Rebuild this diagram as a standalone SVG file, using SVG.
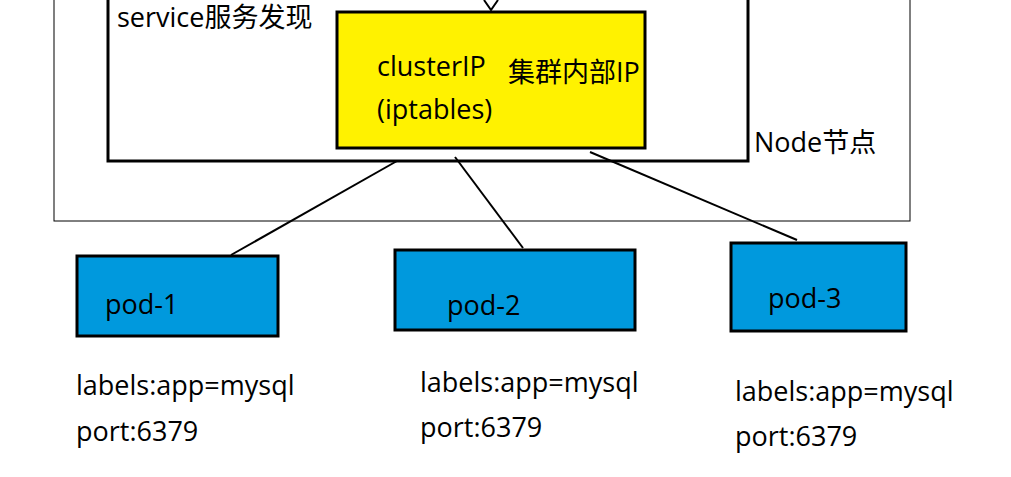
<svg xmlns="http://www.w3.org/2000/svg" width="1011" height="477" viewBox="0 0 1011 477">
<style>
text{font-family:"Open Sans","Noto Sans CJK SC",sans-serif;font-size:27px;fill:#000}
.pod{fill:#0099dd;stroke:#000;stroke-width:3}
.c{stroke:#000;stroke-width:2;fill:none}
</style>
<rect width="1011" height="477" fill="#fff"/>
<g id="node"><rect x="54" y="-5" width="856" height="226" fill="none" stroke="#000" stroke-width="1"/><text x="754" y="152">Node节点</text></g>
<g id="service"><rect x="108" y="-5" width="640" height="166" fill="none" stroke="#000" stroke-width="3"/><text x="117" y="27">service服务发现</text></g>
<g id="clusterip"><rect x="337" y="12" width="308" height="136" fill="#fff200" stroke="#000" stroke-width="3"/><text x="377" y="76">clusterIP</text><text x="377" y="119">(iptables)</text><text x="508" y="82">集群内部IP</text></g>
<g id="pod1"><rect class="pod" x="77" y="256" width="201" height="80"/><text x="105" y="314">pod-1</text><text x="76" y="395">labels:app=mysql</text><text x="76" y="441">port:6379</text></g>
<g id="pod2"><rect class="pod" x="395" y="250" width="240" height="80"/><text x="447" y="315">pod-2</text><text x="420" y="392">labels:app=mysql</text><text x="420" y="437">port:6379</text></g>
<g id="pod3"><rect class="pod" x="731" y="243" width="175" height="88"/><text x="768" y="308">pod-3</text><text x="735" y="401">labels:app=mysql</text><text x="735" y="446">port:6379</text></g>
<g id="connectors">
<path class="c" d="M484 0 L491 10 L498 0"/>
<line class="c" x1="397" y1="161" x2="231" y2="255"/>
<line class="c" x1="455" y1="157" x2="523" y2="248"/>
<line class="c" x1="590" y1="152" x2="797" y2="240"/>
</g>
</svg>
